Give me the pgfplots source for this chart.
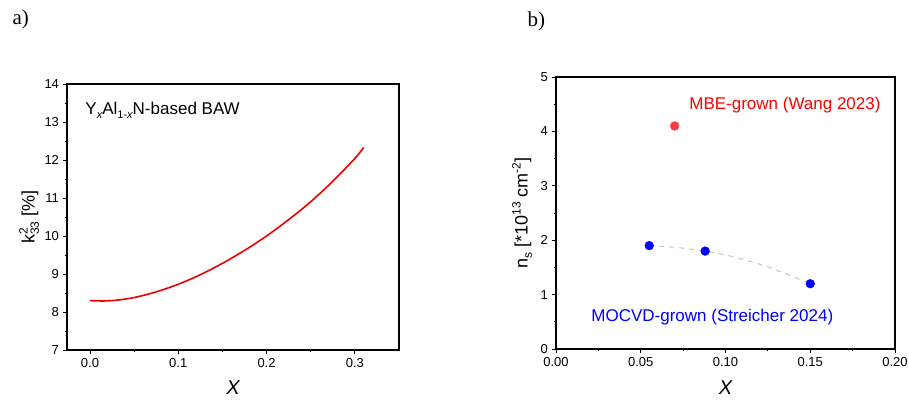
\documentclass[border=0pt]{standalone}
\usepackage{pgfplots}
\pgfplotsset{compat=1.18}
\usepackage{fontspec}
\setmainfont{Liberation Sans}
\newfontfamily\serifrm{Liberation Serif}

\definecolor{curvered}{RGB}{235,0,0}
\definecolor{dotred}{RGB}{245,60,60}
\definecolor{dotblue}{RGB}{0,0,255}
\definecolor{fitgray}{RGB}{195,195,195}

\pgfplotsset{
  panel/.style={
    scale only axis, anchor=south west,
    axis line style={line width=1.4pt},
    tick align=outside, xtick pos=bottom, ytick pos=left,
    major tick length=4.5pt, minor tick length=2.5pt,
    tick style={black, line width=0.9pt},
    minor x tick num=1, minor y tick num=1,
    tick label style={font=\fontsize{13}{15}\selectfont},
    /pgf/number format/assume math mode=true,
    xlabel style={font=\fontsize{20}{22}\selectfont\itshape, anchor=center},
    ylabel style={font=\fontsize{18}{20}\selectfont, anchor=center},
  }
}

\begin{document}
\begin{tikzpicture}
\path[use as bounding box] (0,0) rectangle (909pt,401pt);

\node[anchor=west, font=\serifrm\fontsize{21}{23}\selectfont] at (9pt,382pt) {a)};
\node[anchor=west, font=\serifrm\fontsize{21}{23}\selectfont] at (524pt,380pt) {b)};

% a) coupling coefficient
\begin{axis}[panel,
    at={(67pt,51pt)}, width=332pt, height=266pt,
    xmin=-0.026, xmax=0.35, ymin=7, ymax=14,
    xtick={0,0.1,0.2,0.3}, ytick={7,8,9,10,11,12,13,14},
    xticklabel style={/pgf/number format/.cd,fixed,fixed zerofill,precision=1},
    xlabel={X},
    xlabel style={at={(axis description cs:0.5,-0.143)}},
    ylabel={k\makebox[0pt][l]{\raisebox{0.75ex}{\fontsize{12}{13}\selectfont 2}}\raisebox{-0.45ex}{\fontsize{12}{13}\selectfont 33} [\%]},
    ylabel style={at={(axis description cs:-0.114,0.5)}},
]
\addplot[curvered, line width=1.6pt, smooth] coordinates {
    (0,8.30) (0.015,8.29) (0.03,8.31) (0.05,8.38) (0.075,8.53)
    (0.1,8.73) (0.125,8.98) (0.15,9.28) (0.175,9.62) (0.2,10.00)
    (0.225,10.43) (0.25,10.90) (0.275,11.44) (0.3,12.04) (0.31,12.33)};
\node[anchor=west, font=\fontsize{17}{19}\selectfont] at (axis description cs:0.045,0.902)
    {Y\raisebox{-0.45ex}{\fontsize{11}{12}\selectfont\itshape x}Al\raisebox{-0.45ex}{\fontsize{11}{12}\selectfont 1-\itshape x}N-based BAW};
\end{axis}

% b) sheet carrier density
\begin{axis}[panel,
    at={(556pt,52pt)}, width=339pt, height=272pt,
    xmin=0, xmax=0.2, ymin=0, ymax=5,
    xtick={0,0.05,0.1,0.15,0.2}, ytick={0,1,2,3,4,5},
    xticklabel style={/pgf/number format/.cd,fixed,fixed zerofill,precision=2},
    xlabel={X},
    xlabel style={at={(axis description cs:0.5,-0.143)}},
    ylabel={n\raisebox{-0.45ex}{\fontsize{12}{13}\selectfont s} [*10\raisebox{0.75ex}{\fontsize{12}{13}\selectfont 13} cm\raisebox{0.75ex}{\fontsize{12}{13}\selectfont -2}]},
    ylabel style={at={(axis description cs:-0.1,0.5)}},
]
\addplot[fitgray, line width=1pt, dash pattern=on 5pt off 5pt, smooth] coordinates {
    (0.055,1.90) (0.07,1.87) (0.088,1.80) (0.1,1.73) (0.12,1.56) (0.135,1.39) (0.15,1.20)};
\addplot[only marks, mark=*, mark size=4.4pt, mark options={draw=dotblue, fill=dotblue}]
    coordinates {(0.055,1.90) (0.088,1.80) (0.15,1.20)};
\addplot[only marks, mark=*, mark size=4.4pt, mark options={draw=dotred, fill=dotred}]
    coordinates {(0.07,4.10)};
\node[anchor=west, text=red, font=\fontsize{17}{19}\selectfont] at (axis description cs:0.383,0.897)
    {MBE-grown (Wang 2023)};
\node[anchor=west, text=dotblue, font=\fontsize{17}{19}\selectfont] at (axis description cs:0.094,0.118)
    {MOCVD-grown (Streicher 2024)};
\end{axis}
\end{tikzpicture}
\end{document}
